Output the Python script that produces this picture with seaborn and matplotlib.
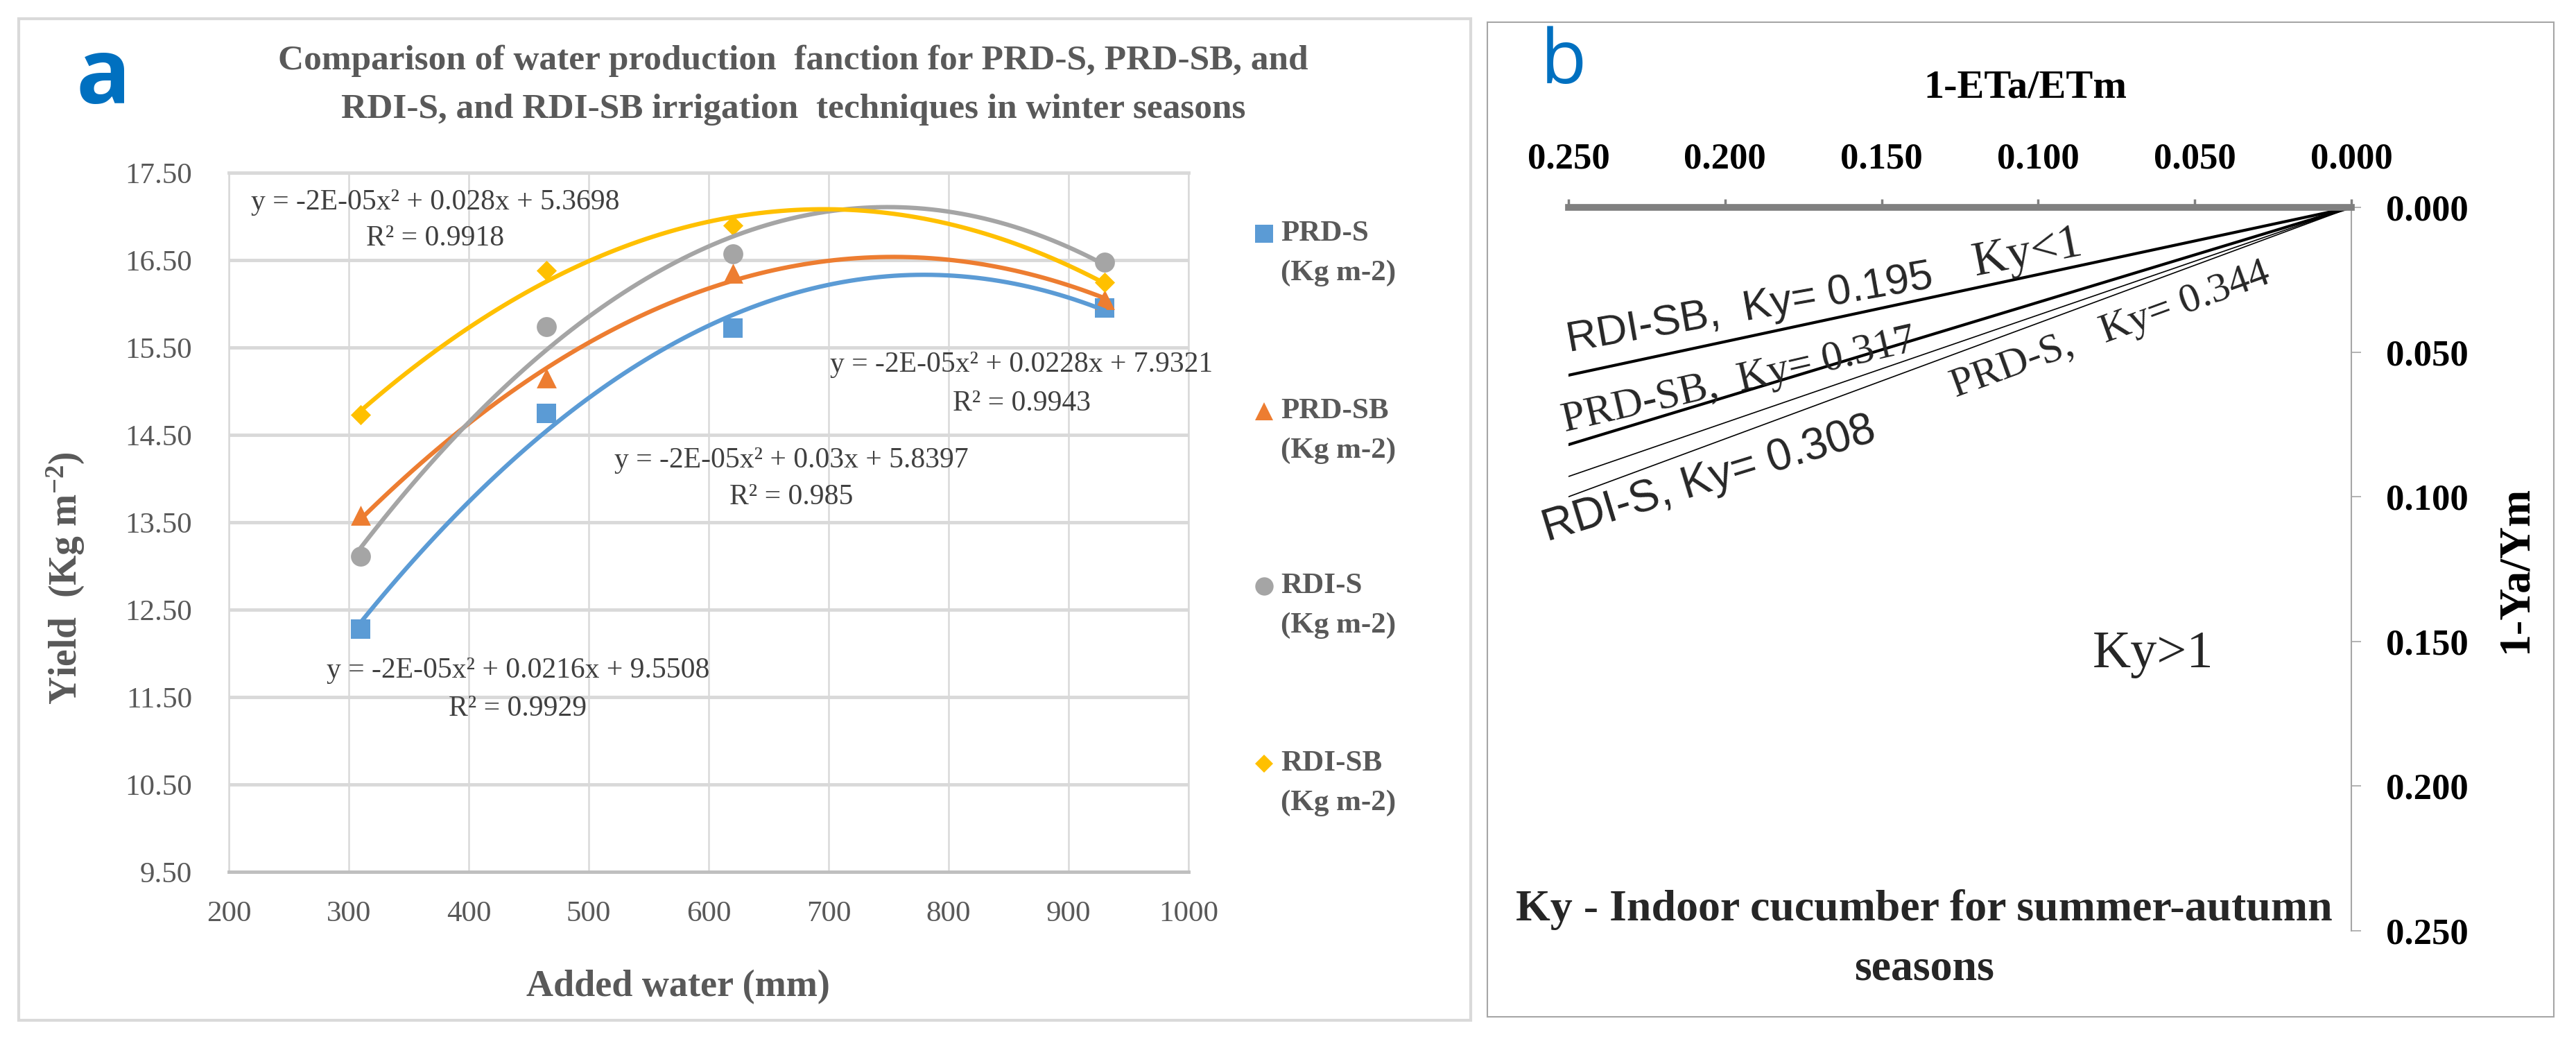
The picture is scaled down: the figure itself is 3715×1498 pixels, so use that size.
import numpy as np
import pandas as pd
import matplotlib
matplotlib.use("Agg")
import matplotlib.pyplot as plt
from matplotlib.lines import Line2D
from matplotlib.patches import Rectangle
from matplotlib.ticker import FormatStrFormatter
import seaborn as sns

# ---------------- panel a: yield vs added water
added_water = [310, 465, 620, 930]
prd_s = [12.28, 14.75, 15.72, 15.95]
prd_sb = [13.58, 15.15, 16.35, 16.05]
rdi_s = [13.11, 15.74, 16.57, 16.48]
rdi_sb = [14.73, 16.38, 16.90, 16.25]
series_a = ["PRD-S", "PRD-SB", "RDI-S", "RDI-SB"]
series_colors = ["#5B9BD5", "#ED7D31", "#A5A5A5", "#FFC000"]
series_markers = ["s", "^", "o", "D"]

# trendline labels as printed on the chart
equations = ["y = -2E-05x² + 0.0216x + 9.5508",
             "y = -2E-05x² + 0.0228x + 7.9321",
             "y = -2E-05x² + 0.03x + 5.8397",
             "y = -2E-05x² + 0.028x + 5.3698"]
r_squared = ["R² = 0.9929", "R² = 0.9943", "R² = 0.985", "R² = 0.9918"]

# ---------------- panel b: Ky lines (1-Ya/Ym against 1-ETa/ETm)
eta_loss = [0.0, 0.25]
ky_series = ["RDI-SB", "PRD-SB", "RDI-S", "PRD-S"]
ky_values = ["0.195", "0.317", "0.308", "0.344"]
ya_loss = [[0.0, 0.058], [0.0, 0.082], [0.0, 0.093], [0.0, 0.100]]
b_ticks = [0.0, 0.05, 0.10, 0.15, 0.20, 0.25]

df_a = pd.DataFrame({
    "water": added_water * 4,
    "yield": prd_s + prd_sb + rdi_s + rdi_sb,
    "series": sum([[s] * 4 for s in series_a], []),
})

sns.set_theme(style="white")
SERIF = ["Liberation Serif", "DejaVu Serif"]
NARROW = ["Liberation Sans Narrow", "Liberation Sans", "DejaVu Sans"]
plt.rcParams["font.family"] = SERIF
plt.rcParams["mathtext.default"] = "regular"

W, H = 3716, 1498
fig = plt.figure(figsize=(W / 100, H / 100), dpi=100)
fig.patch.set_facecolor("white")


def fx(px):
    return px / W


def fy(py):
    return 1 - py / H


# panel frames
fig.add_artist(Rectangle((fx(27), fy(1471)), fx(2121 - 27), (1471 - 27) / H,
                         fill=False, ec="#d9d9d9", lw=3, transform=fig.transFigure))
fig.add_artist(Rectangle((fx(2145), fy(1466)), fx(3683 - 2145), (1466 - 32) / H,
                         fill=False, ec="#a6a6a6", lw=1.5, transform=fig.transFigure))

# ======================= panel a
ax = fig.add_axes([fx(330), fy(1257), fx(1714 - 330), (1257 - 249) / H])
grey = "#595959"
for name, c, m in zip(series_a, series_colors, series_markers):
    sub = df_a[df_a["series"] == name]
    sns.scatterplot(data=sub, x="water", y="yield", marker=m, color=c,
                    s=220 if m == "D" else 430, linewidth=0, ax=ax, zorder=2,
                    legend=False)
    sns.regplot(data=sub, x="water", y="yield", order=2, ci=None, scatter=False,
                color=c, line_kws={"lw": 4.5, "zorder": 3}, ax=ax)

ax.set_xlim(200, 1000)
ax.set_ylim(9.5, 17.5)
ax.set_xticks(range(200, 1001, 100))
ax.set_yticks(np.arange(9.5, 17.6, 1.0))
ax.yaxis.set_major_formatter(FormatStrFormatter("%.2f"))
ax.grid(axis="y", color="#d9d9d9", lw=3.5)
ax.grid(axis="x", color="#d9d9d9", lw=1.8)
ax.set_axisbelow(True)
for side in ["left", "right", "top"]:
    ax.spines[side].set_color("#d9d9d9")
    ax.spines[side].set_linewidth(1.8)
ax.spines["top"].set_linewidth(3.5)
ax.spines["bottom"].set_color("#bfbfbf")
ax.spines["bottom"].set_linewidth(3.5)
ax.tick_params(length=0, labelsize=31, labelcolor=grey)
ax.tick_params(axis="y", pad=38)
ax.tick_params(axis="x", pad=30)
ax.set_xlabel("Added water (mm)", fontsize=39, fontweight="bold", color=grey,
              va="center")
ax.xaxis.set_label_coords(0.468, -0.165)
ax.set_ylabel("Yield  (Kg m$^{-2}$)", fontsize=40, fontweight="bold", color=grey,
              va="center")
ax.yaxis.set_label_coords(-0.170, 0.42)

eq_pos = [(441, 11.80, 11.37), (861, 15.30, 14.86), (669, 14.21, 13.79), (372, 17.16, 16.75)]
for (xp, ye, yr), eq, r2 in zip(eq_pos, equations, r_squared):
    ax.text(xp, ye, eq, fontsize=30, color="#404040", ha="center", va="center")
    ax.text(xp, yr, r2, fontsize=30, color="#404040", ha="center", va="center")

fig.text(fx(1144), fy(88), "Comparison of water production  fanction for PRD-S, PRD-SB, and",
         fontsize=37, fontweight="bold", color=grey, ha="center", va="center")
fig.text(fx(1144), fy(158), "RDI-S, and RDI-SB irrigation  techniques in winter seasons",
         fontsize=37, fontweight="bold", color=grey, ha="center", va="center")
fig.text(fx(149), fy(115), "a", fontsize=94, fontweight="bold", color="#0070C0",
         family=["Open Sans", "DejaVu Sans"], ha="center", va="center")

# legend of panel a, drawn at the right of the plot
leg_y = [337, 593, 845, 1101]
for name, c, m, y in zip(series_a, series_colors, series_markers, leg_y):
    fig.add_artist(Line2D([fx(1823)], [fy(y)], marker=m, color=c, ms=13 if m == "D" else 19,
                          mew=0, ls="none", transform=fig.transFigure))
    fig.text(fx(1847), fy(y), name, fontsize=31, fontweight="bold", color=grey,
             ha="left", va="center")
    fig.text(fx(1847), fy(y + 57), "(Kg m-2)", fontsize=31, fontweight="bold", color=grey,
             ha="left", va="center")

# ======================= panel b
bx = fig.add_axes([fx(2262), fy(1342), fx(3391 - 2262), (1342 - 299) / H])
for name, yl in zip(ky_series, ya_loss):
    sns.lineplot(x=eta_loss, y=yl, color="black",
                 lw=3.0 if name.endswith("SB") else 1.2, ax=bx)
bx.set_xlim(0.25, 0)
bx.set_ylim(0.25, 0)
bx.set_xticks(b_ticks)
bx.set_yticks(b_ticks)
bx.xaxis.set_major_formatter(FormatStrFormatter("%.3f"))
bx.yaxis.set_major_formatter(FormatStrFormatter("%.3f"))
bx.xaxis.tick_top()
bx.yaxis.tick_right()
for side in ["left", "bottom"]:
    bx.spines[side].set_visible(False)
bx.spines["top"].set_color("#808080")
bx.spines["top"].set_linewidth(7)
bx.spines["right"].set_color("#a6a6a6")
bx.spines["right"].set_linewidth(1.5)
bx.tick_params(axis="x", direction="out", length=9, width=2.5, color="#808080",
               labelsize=38, pad=24)
bx.tick_params(axis="y", direction="out", length=10, width=1.2, color="#a6a6a6",
               labelsize=38, pad=26)
for lab in bx.get_xticklabels() + bx.get_yticklabels():
    lab.set_fontweight("bold")
    lab.set_color("black")
bx.set_xlabel("1-ETa/ETm", fontsize=42, fontweight="bold", color="black", va="center")
bx.xaxis.set_label_coords(0.584, 1.165)
bx.set_ylabel("1-Ya/Ym", fontsize=46, fontweight="bold", color="black",
              rotation=90, va="center", ha="center")
bx.yaxis.set_label_coords(1.21, 0.50)

bx.text(0.192, 0.0352, "RDI-SB,  Ky= " + ky_values[0], fontsize=44, family=NARROW,
        rotation=10, ha="center", va="center", rotation_mode="anchor")
bx.text(0.1955, 0.0599, "PRD-SB,  Ky= " + ky_values[1], fontsize=44,
        rotation=13, ha="center", va="center", rotation_mode="anchor")
bx.text(0.205, 0.094, "RDI-S, Ky= " + ky_values[2], fontsize=46, family=NARROW,
        rotation=17, ha="center", va="center", rotation_mode="anchor")
bx.text(0.077, 0.0427, "PRD-S,   Ky= " + ky_values[3], fontsize=43,
        rotation=20, ha="center", va="center", rotation_mode="anchor")
bx.text(0.1034, 0.016, "Ky<1", fontsize=50, rotation=11, ha="center", va="center",
        rotation_mode="anchor")
bx.text(0.0633, 0.1546, "Ky>1", fontsize=55, ha="center", va="center")
bx.text(0.1364, 0.2426, "Ky - Indoor cucumber for summer-autumn", fontsize=46,
        fontweight="bold", ha="center", va="center")
bx.text(0.1364, 0.2632, "seasons", fontsize=46, fontweight="bold", ha="center",
        va="center", clip_on=False)
fig.text(fx(2255), fy(92), "b", fontsize=78, color="#0070C0",
         family=["Open Sans", "DejaVu Sans"], ha="center", va="center")

fig.savefig("out.png", dpi=100, facecolor="white")
